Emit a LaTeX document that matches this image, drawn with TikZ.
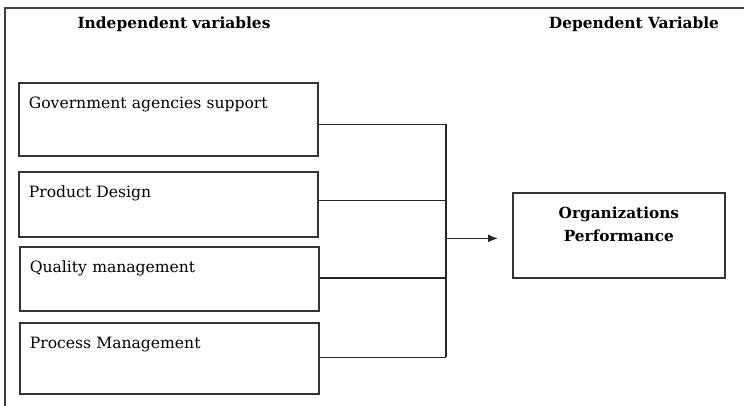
\documentclass[tikz,border=0pt]{standalone}
\usepackage{fontspec}
\setmainfont{DejaVu Serif}
\usetikzlibrary{arrows.meta}

\tikzset{
    varbox/.style={draw=black!80, line width=1.7pt, anchor=north west,
        inner xsep=10pt, inner ysep=0pt, text width=279pt, align=left,
        text height=26pt, text depth=#1},
    depbox/.style={draw=black!80, line width=1.7pt, anchor=north west,
        inner xsep=0pt, inner ysep=0pt, text width=212pt, align=center,
        font=\bfseries\fontsize{15.3}{23}\selectfont,
        text height=26pt, text depth=59pt},
    head/.style={font=\bfseries\fontsize{15.4}{18}\selectfont},
    link/.style={draw=black!85, line width=1.6pt}
}

\begin{document}
\begin{tikzpicture}[x=1pt,y=-1pt,font=\fontsize{15.6}{18}\selectfont]
    \useasboundingbox (0,0) rectangle (744,406);
    \draw[black!75, line width=1.5pt] (5,406) -- (5,8) -- (744,8);

    \node[head] (indep) at (174,24) {Independent variables};
    \node[head] (dep) at (634,24) {Dependent Variable};

    \node[varbox=47pt] (gov) at (18,82) {Government agencies support};
    \node[varbox=39pt] (design) at (18,171) {Product Design};
    \node[varbox=38pt] (quality) at (19,246) {Quality management};
    \node[varbox=45pt] (process) at (19,322) {Process Management};

    \node[depbox] (perf) at (512,192) {Organizations\\Performance};

    \coordinate (bus) at (446,0);
    \foreach \v/\dy in {gov/-5,design/4,quality/1,process/1}
        \draw[link] ([yshift=\dy pt]\v.east) -- ([yshift=\dy pt]\v.east -| bus);
    \draw[link] ([yshift=-5pt]gov.east -| bus) -- ([yshift=1pt]process.east -| bus);
    \draw[link,-{Latex[length=10pt,width=8pt]},shorten >=14pt] ([yshift=-3pt]bus |- perf.west) -- ([yshift=-3pt]perf.west);
\end{tikzpicture}
\end{document}
